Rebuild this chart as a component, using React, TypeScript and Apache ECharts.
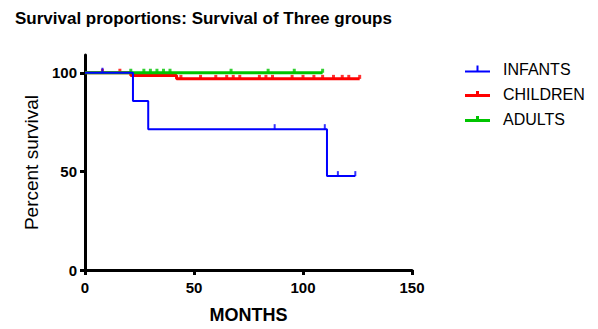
import React, { useEffect, useRef } from "react";
import * as echarts from "echarts";

// Kaplan-Meier step data (months, percent survival)
const infantTimes = [0, 22, 29, 111, 124];
const infantSurv = [100, 85.7, 71.4, 47.6, 47.6];
const infantCensored = [8, 87, 110, 116, 124];

const childTimes = [0, 21, 42, 126];
const childSurv = [100, 98.6, 96.9, 96.9];
const childCensored = [8, 16, 44, 53, 60, 65, 68, 71, 80, 83, 86, 95, 100, 105, 109, 114, 118, 121, 126];

const adultTimes = [0, 109];
const adultSurv = [100, 100];
const adultCensored = [21, 27, 30, 33, 36, 39, 67, 84, 96, 109];

const groupNames = ["INFANTS", "CHILDREN", "ADULTS"];
const xTicks = [0, 50, 100, 150];
const yTicks = [0, 50, 100];

const FONT = '"Liberation Sans", Arial, sans-serif';

function survAt(times: number[], surv: number[], t: number) {
  let v = surv[0];
  for (let i = 0; i < times.length; i++) if (times[i] <= t) v = surv[i];
  return v;
}

export default function App() {
  const ref = useRef<HTMLDivElement>(null);
  useEffect(() => {
    if (!ref.current) return;
    const chart = echarts.init(ref.current, null, { renderer: "svg" });
    const groups = [
      { name: groupNames[1], times: childTimes, surv: childSurv, cens: childCensored, color: "#ff0000", w: 3, z: 2, tick: [3, 4] },
      { name: groupNames[2], times: adultTimes, surv: adultSurv, cens: adultCensored, color: "#00c400", w: 3, z: 3, tick: [3, 4] },
      { name: groupNames[0], times: infantTimes, surv: infantSurv, cens: infantCensored, color: "#0000ff", w: 2, z: 4, tick: [2, 5] },
    ];
    const series: any[] = [];
    groups.forEach((g) => {
      series.push({
        name: g.name,
        type: "line",
        step: "end",
        symbol: "none",
        z: g.z,
        color: g.color,
        lineStyle: { color: g.color, width: g.w },
        data: g.times.map((t, i) => [t, g.surv[i]]),
      });
      series.push({
        name: g.name + " censored",
        type: "scatter",
        symbol: "rect",
        symbolSize: g.tick,
        symbolOffset: [0, -g.tick[1] / 2],
        z: g.z,
        itemStyle: { color: g.color },
        data: g.cens.map((t) => [t, survAt(g.times, g.surv, t)]),
      });
    });
    const icon = (thin: boolean) =>
      thin
        ? "path://M0,5H11.5V0H13.5V5H25V7H0Z"
        : "path://M0,3H11V0H14V3H25V6H0Z";
    chart.setOption({
      animation: false,
      title: {
        text: "Survival proportions: Survival of Three groups",
        left: 10,
        top: 5,
        textStyle: { fontFamily: FONT, fontSize: 17, fontWeight: "bold", color: "#000" },
      },
      legend: {
        orient: "vertical",
        left: 460,
        top: 55,
        itemWidth: 25,
        itemHeight: 7,
        itemGap: 7,
        selectedMode: false,
        textStyle: { fontFamily: FONT, fontSize: 16, color: "#000", lineHeight: 18, padding: [0, 0, 0, 8] },
        data: [
          { name: groupNames[0], icon: icon(true), itemStyle: { color: "#0000ff" } },
          { name: groupNames[1], icon: icon(false), itemStyle: { color: "#ff0000" } },
          { name: groupNames[2], icon: icon(false), itemStyle: { color: "#00c400" } },
        ],
      },
      grid: { left: 85, top: 55, width: 327, height: 216 },
      xAxis: {
        type: "value",
        min: xTicks[0],
        max: xTicks[xTicks.length - 1],
        interval: 50,
        name: "MONTHS",
        nameLocation: "middle",
        nameGap: 36,
        nameTextStyle: { fontFamily: FONT, fontSize: 18, fontWeight: "bold", color: "#000" },
        splitLine: { show: false },
        axisLine: { onZero: false, lineStyle: { color: "#000", width: 3 } },
        axisTick: { length: 5, lineStyle: { color: "#000", width: 3 } },
        axisLabel: { fontFamily: FONT, fontSize: 15, fontWeight: "bold", color: "#000", margin: 10 },
      },
      yAxis: {
        type: "value",
        min: 0,
        max: 109,
        interval: 50,
        name: "Percent survival",
        nameLocation: "middle",
        nameGap: 42,
        nameTextStyle: { fontFamily: FONT, fontSize: 19, color: "#000" },
        splitLine: { show: false },
        axisLine: { onZero: false, lineStyle: { color: "#000", width: 3 } },
        axisTick: { length: 5, customValues: yTicks, lineStyle: { color: "#000", width: 3 } },
        axisLabel: { customValues: yTicks, fontFamily: FONT, fontSize: 15, fontWeight: "bold", color: "#000", margin: 8 },
      },
      series,
    });
    return () => chart.dispose();
  }, []);
  return <div ref={ref} style={{ position: "fixed", left: 0, top: 0, width: 598, height: 329, background: "#fff" }} />;
}
